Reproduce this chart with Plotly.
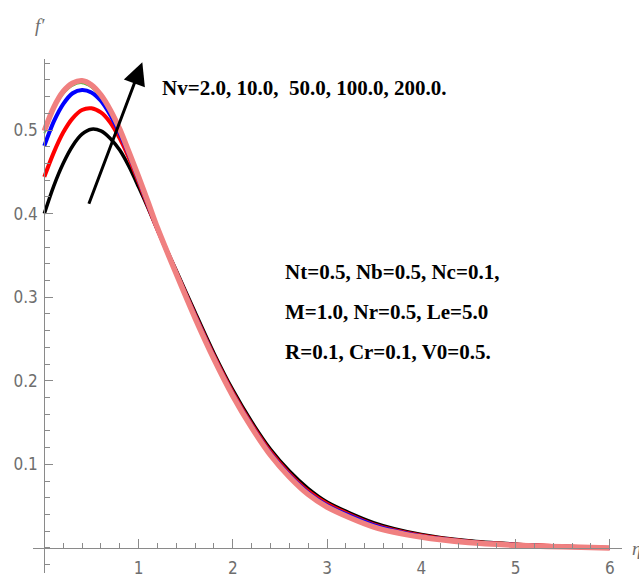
import plotly.graph_objects as go

# eta grid
eta = [0, 0.1, 0.2, 0.3, 0.4, 0.5, 0.6, 0.7, 0.8, 0.9, 1.0, 1.1, 1.2,
       1.4, 1.6, 1.8, 2.0, 2.2, 2.4, 2.6, 2.8, 3.0,
       3.5, 4.0, 4.5, 5.0, 5.5, 6.0]

# f' for Nv = 2, 10, 50, 100, 200
f_nv2 = [0.400, 0.433, 0.460, 0.481, 0.495, 0.501, 0.499, 0.490, 0.476, 0.456, 0.432, 0.407, 0.381,
         0.332, 0.282, 0.233, 0.189, 0.151, 0.118, 0.092, 0.071, 0.055,
         0.030, 0.016, 0.0085, 0.0045, 0.002, 0.0]
f_nv10 = [0.444, 0.473, 0.497, 0.514, 0.524, 0.526, 0.521, 0.509, 0.490, 0.466, 0.438, 0.409, 0.381,
          0.330, 0.279, 0.230, 0.186, 0.148, 0.115, 0.089, 0.068, 0.053,
          0.028, 0.015, 0.0078, 0.0040, 0.0018, 0.0]
f_nv50 = [0.481, 0.510, 0.531, 0.544, 0.548, 0.545, 0.535, 0.518, 0.496, 0.470, 0.441, 0.411, 0.382,
          0.329, 0.277, 0.228, 0.184, 0.146, 0.113, 0.087, 0.066, 0.051,
          0.027, 0.014, 0.0072, 0.0036, 0.0015, 0.0]
f_nv100 = [0.496, 0.525, 0.543, 0.553, 0.556, 0.551, 0.539, 0.522, 0.500, 0.473, 0.443, 0.413, 0.383,
           0.329, 0.276, 0.227, 0.183, 0.145, 0.112, 0.086, 0.065, 0.050,
           0.026, 0.013, 0.0068, 0.0034, 0.0014, 0.0]
f_nv200 = [0.499, 0.527, 0.546, 0.556, 0.559, 0.554, 0.542, 0.524, 0.501, 0.473, 0.444, 0.414, 0.383,
           0.328, 0.275, 0.226, 0.182, 0.144, 0.111, 0.085, 0.064, 0.049,
           0.025, 0.013, 0.0065, 0.0032, 0.0013, 0.0]

series = [
    ("Nv=2.0", f_nv2, "#000000", 3.5),
    ("Nv=10.0", f_nv10, "#ff0000", 4),
    ("Nv=50.0", f_nv50, "#0000ff", 4),
    ("Nv=100.0", f_nv100, "#22cc22", 1.8),
    ("Nv=200.0", f_nv200, "#f08080", 5.5),
]

x_ticks = [1, 2, 3, 4, 5, 6]
y_ticks = [0.1, 0.2, 0.3, 0.4, 0.5]
y_ticktext = ["0.1", "0.2", "0.3", "0.4", "0.5"]

fig = go.Figure()
for name, ys, col, w in series:
    fig.add_trace(go.Scatter(x=eta, y=ys, mode="lines", name=name,
                             line=dict(color=col, width=w, shape="spline", smoothing=0.8),
                             showlegend=False))

axis_gray = "#8a8a8a"
tick_font = dict(family="DejaVu Sans Condensed, Liberation Sans Narrow, Liberation Sans, sans-serif",
                 size=17, color="#6e6e6e")

xr = [-0.12, 6.13]
yr = [-0.03, 0.585]

fig.update_layout(
    width=639, height=578, autosize=False,
    margin=dict(l=33, r=17, t=59, b=5),
    plot_bgcolor="white", paper_bgcolor="white",
    xaxis=dict(range=xr, tickmode="array", tickvals=x_ticks,
               ticks="inside", ticklen=9, tickwidth=1, tickcolor=axis_gray,
               minor=dict(tickmode="linear", tick0=0, dtick=0.2, ticks="inside",
                          ticklen=5, tickwidth=1, tickcolor=axis_gray),
               showline=True, linecolor=axis_gray, linewidth=1.2,
               showgrid=False, zeroline=False, automargin=False,
               anchor="free", position=(0 - yr[0]) / (yr[1] - yr[0]),
               tickfont=tick_font, ticklabelstandoff=5),
    yaxis=dict(range=yr, tickmode="array", tickvals=y_ticks, ticktext=y_ticktext,
               ticks="inside", ticklen=8, tickwidth=1, tickcolor=axis_gray,
               minor=dict(tickmode="linear", tick0=0, dtick=0.02, ticks="inside",
                          ticklen=5, tickwidth=1, tickcolor=axis_gray),
               showline=True, linecolor=axis_gray, linewidth=1.2,
               showgrid=False, zeroline=False, automargin=False,
               anchor="free", position=(0 - xr[0]) / (xr[1] - xr[0]),
               tickfont=tick_font, ticklabelstandoff=3),
)

serif = dict(family="Liberation Serif, Times New Roman, serif", size=21, color="black")

fig.add_annotation(x=1.04, y=0.581, ax=0.467, ay=0.410, xref="x", yref="y",
                   axref="x", ayref="y", text="", showarrow=True,
                   arrowhead=2, arrowsize=1.5, arrowwidth=3, arrowcolor="black")

fig.add_annotation(x=1.23, y=0.550, xref="x", yref="y", xanchor="left", yanchor="middle",
                   text="<b>Nv=2.0, 10.0,&nbsp; 50.0, 100.0, 200.0.</b>", showarrow=False, font=serif)

param_lines = ["Nt=0.5, Nb=0.5, Nc=0.1,", "M=1.0, Nr=0.5, Le=5.0", "R=0.1, Cr=0.1, V0=0.5."]
param_y = [0.330, 0.282, 0.234]
for t, yv in zip(param_lines, param_y):
    fig.add_annotation(x=2.53, y=yv, xref="x", yref="y", xanchor="left", yanchor="middle",
                       text="<b>" + t + "</b>", showarrow=False, font=serif)

fig.add_annotation(x=0.012, y=1.066, xref="paper", yref="paper", xanchor="center", yanchor="middle",
                   text="<i>f′</i>", showarrow=False,
                   font=dict(family="Liberation Serif, serif", size=19, color="#6e6e6e"))
fig.add_annotation(x=1.0136, y=0.0486, xref="paper", yref="paper", xanchor="left", yanchor="middle",
                   text="<i>η</i>", showarrow=False,
                   font=dict(family="Liberation Serif, serif", size=19, color="#6e6e6e"))

fig.write_html("out.html")
